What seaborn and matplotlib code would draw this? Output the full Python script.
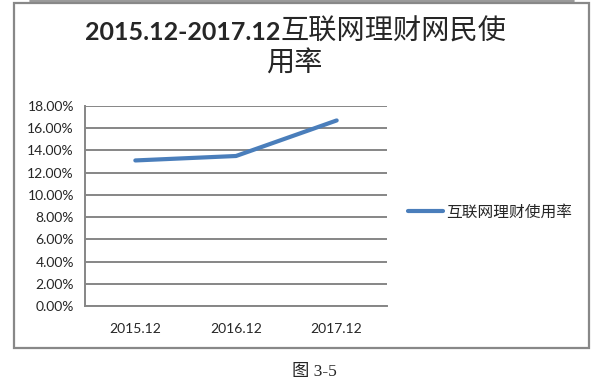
import matplotlib
matplotlib.use("Agg")
import matplotlib.pyplot as plt
import seaborn as sns
import pandas as pd
from matplotlib.patches import Rectangle
from matplotlib.lines import Line2D
from matplotlib.ticker import FixedLocator, PercentFormatter

categories = ["2015.12", "2016.12", "2017.12"]
rates = [13.1, 13.5, 16.7]
series_name = "互联网理财使用率"
yticks = [0, 2, 4, 6, 8, 10, 12, 14, 16, 18]
title_bold = "2015.12-2017.12"
title_cjk1 = "互联网理财网民使"
title_cjk2 = "用率"
caption = "图 3-5"

sns.set_style("white")
plt.rcParams['font.family'] = ['Lato', 'Noto Sans CJK SC', 'DejaVu Sans']

W, H = 609, 386
fig = plt.figure(figsize=(W / 100, H / 100), dpi=100)

def fx(px):
    return px / W

def fy(py):
    return 1 - py / H

ax = fig.add_axes([fx(85), fy(306), fx(387) - fx(85), fy(106) - fy(306)])

df = pd.DataFrame({"period": categories, "rate": rates, "x": range(len(categories))})
sns.lineplot(data=df, x="x", y="rate", ax=ax, color="#4A7EBB", linewidth=3.0,
             label=series_name, legend=False)

grid_c = "#868686"
ax.set_xlim(-0.5, len(categories) - 0.5)
ax.set_ylim(0, 18)
ax.set_yticks(yticks)
ax.yaxis.set_major_formatter(PercentFormatter(decimals=2))
ax.yaxis.grid(True, color=grid_c, linewidth=1.4)
ax.xaxis.grid(False)
ax.set_xticks(range(len(categories)))
ax.set_xticklabels(categories)
ax.xaxis.set_minor_locator(FixedLocator([i - 0.5 for i in range(len(categories) + 1)]))
ax.tick_params(axis='x', which='major', length=0, pad=12, labelsize=10)
ax.tick_params(axis='x', which='minor', length=5, width=1.4, color=grid_c, direction='out')
ax.tick_params(axis='y', which='major', length=5, width=1.4, color=grid_c, direction='out', pad=3, labelsize=10)
ax.set_xlabel("")
ax.set_ylabel("")
for s in ["top", "right"]:
    ax.spines[s].set_visible(False)
ax.spines["left"].set_color(grid_c)
ax.spines["left"].set_linewidth(1.4)
ax.spines["bottom"].set_color(grid_c)
ax.spines["bottom"].set_linewidth(1.4)

# Title (two lines, mixed weights)
fig.text(fx(280), fy(32), title_bold, ha='right', va='center', fontsize=18,
         fontweight='bold', family=['Lato', 'DejaVu Sans'])
fig.text(fx(280), fy(32), title_cjk1, ha='left', va='center', fontsize=20.3,
         family=['Noto Sans CJK SC'])
fig.text(fx(294), fy(64), title_cjk2, ha='center', va='center', fontsize=20.3,
         family=['Noto Sans CJK SC'])

# Legend
handle = Line2D([], [], color="#4A7EBB", linewidth=3.0)
fig.legend([handle], [series_name], loc='center left',
           bbox_to_anchor=(fx(408), fy(212)), bbox_transform=fig.transFigure,
           frameon=False, borderpad=0, borderaxespad=0, handlelength=2.2,
           handletextpad=0.25, prop={'family': ['Noto Sans CJK SC'], 'size': 11.3})

# Chart frame
fig.patches.append(Rectangle((fx(14), fy(348)), fx(589) - fx(14), fy(3) - fy(348),
                             transform=fig.transFigure, fill=False,
                             edgecolor="#888888", linewidth=1.6))
fig.lines.append(Line2D([fx(30), fx(574)], [fy(0.7), fy(0.7)], transform=fig.transFigure,
                        color="#888888", linewidth=1.2))

# Caption
fig.text(fx(314), fy(372), caption, ha='center', va='center', fontsize=12.5,
         family=['Liberation Serif', 'Noto Sans CJK SC'])

fig.savefig("out.png", dpi=100)
